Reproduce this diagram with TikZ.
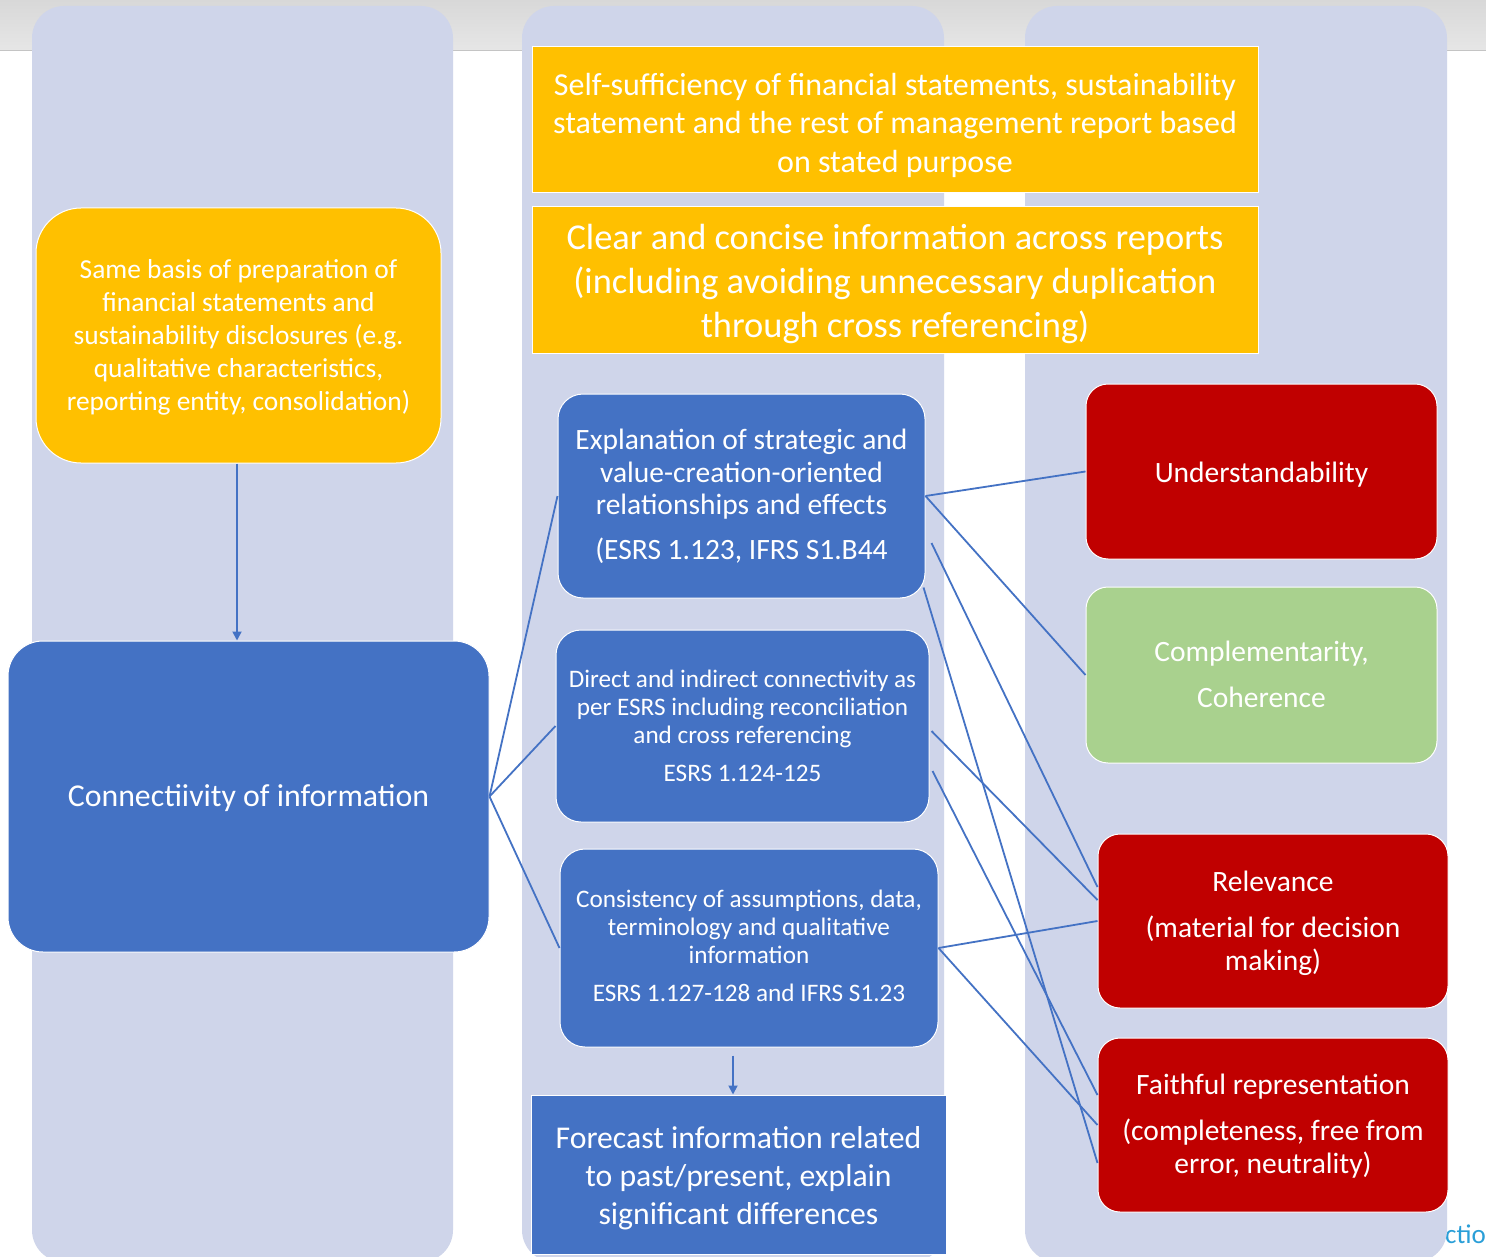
\documentclass[tikz,border=0pt]{standalone}
\usepackage{fontspec}
\setmainfont{Carlito}
\usetikzlibrary{arrows.meta}
\definecolor{colbg}{HTML}{CFD5EA}
\definecolor{ygold}{HTML}{FFC000}
\definecolor{bblue}{HTML}{4472C4}
\definecolor{rred}{HTML}{C00000}
\definecolor{ggreen}{HTML}{A9D18E}
\definecolor{barcol}{HTML}{E6E6E6}
\definecolor{bartop}{HTML}{D8D8D8}
\definecolor{barline}{HTML}{C4C4C4}
\definecolor{actiocol}{HTML}{2A9FD8}
\tikzset{
  colbox/.style={fill=colbg, rounded corners=32pt},
  card/.style={draw=white, line width=1pt, inner sep=0pt},
  txt/.style={text=white, inner sep=0pt, align=center},
  link/.style={draw=bblue, line width=1.8pt},
  arr/.style={link, -{Triangle[width=9pt,length=9pt]}},
}
\newcommand{\fs}[2]{\fontsize{#1}{#2}\selectfont}
\begin{document}
\begin{tikzpicture}[x=1pt,y=-1pt]
\useasboundingbox (0,0) rectangle (1486,1257);
\clip (0,0) rectangle (1486,1257);
\fill[white] (0,0) rectangle (1486,1257);
% top bar
\shade[top color=bartop, bottom color=barcol] (0,0) rectangle (1486,50);
\draw[barline, line width=1.5pt] (0,50.5) -- (1486,50.5);
% clipped text at bottom right
\node[text=actiocol, font=\fs{27}{30}, anchor=base east, inner sep=0pt] (actio) at (1486,1243) {actio};
% columns
\fill[colbox] (32,6) rectangle (453,1262);
\fill[colbox] (522,6) rectangle (944,1262);
\fill[colbox] (1025,6) rectangle (1447,1262);
% boxes
\node[card, fill=ygold, minimum width=726pt, minimum height=146pt] (self) at (895,120) {};
\node[txt, font=\fs{32}{38.5}] (selftxt) at (895,125)
  {Self-sufficiency of financial statements, sustainability\\statement and the rest of management report based\\on stated purpose};
\node[card, fill=ygold, minimum width=726pt, minimum height=146pt] (clear) at (895,280) {};
\node[txt, font=\fs{36.4}{44}] (cleartxt) at (895,284)
  {Clear and concise information across reports\\(including avoiding unnecessary duplication\\through cross referencing)};
\node[card, fill=ygold, rounded corners=45pt, minimum width=405pt, minimum height=255pt] (same) at (238.5,335.5) {};
\node[txt, font=\fs{27.4}{33}] (sametxt) at (238.5,337)
  {Same basis of preparation of\\financial statements and\\sustainability disclosures (e.g.\\qualitative characteristics,\\reporting entity, consolidation)};
\node[card, fill=bblue, rounded corners=35pt, minimum width=481pt, minimum height=311pt] (conn) at (248.5,796.5) {};
\node[txt, font=\fs{31.8}{38}] (conntxt) at (248.5,798.5) {Connectiivity of information};
\node[card, fill=bblue, rounded corners=25pt, minimum width=367pt, minimum height=204pt] (expl) at (741.5,496) {};
\node[txt, font=\fs{29.5}{32.5}] (expltxt) at (741.5,496.5)
  {Explanation of strategic and\\value-creation-oriented\\relationships and effects\\[12pt](ESRS 1.123, IFRS S1.B44};
\node[card, fill=bblue, rounded corners=25pt, minimum width=373pt, minimum height=192pt] (dir) at (742.5,726) {};
\node[txt, font=\fs{25.2}{28}] (dirtxt) at (742.5,725.5)
  {Direct and indirect connectivity as\\per ESRS including reconciliation\\and cross referencing\\[10pt]ESRS 1.124-125};
\node[card, fill=bblue, rounded corners=25pt, minimum width=378pt, minimum height=198pt] (cons) at (749,948) {};
\node[txt, font=\fs{25.2}{28}] (constxt) at (749,946)
  {Consistency of assumptions, data,\\terminology and qualitative\\information\\[10pt]ESRS 1.127-128 and IFRS S1.23};
\node[card, fill=bblue, minimum width=415pt, minimum height=159pt] (fc) at (738.5,1174.5) {};
\node[txt, font=\fs{31.7}{38}] (fctxt) at (738.5,1178)
  {Forecast information related\\to past/present, explain\\significant differences};
\node[card, fill=rred, rounded corners=22pt, minimum width=351pt, minimum height=175pt] (under) at (1261.5,471.5) {};
\node[txt, font=\fs{29.5}{33}] (undertxt) at (1261.5,474.5) {Understandability};
\node[card, fill=ggreen, rounded corners=22pt, minimum width=351pt, minimum height=176pt] (comp) at (1261.5,675) {};
\node[txt, font=\fs{29.5}{33}] (comptxt) at (1261.5,674) {Complementarity,\\[13pt]Coherence};
\node[card, fill=rred, rounded corners=22pt, minimum width=350pt, minimum height=174pt] (rel) at (1273,921) {};
\node[txt, font=\fs{29.5}{33}] (reltxt) at (1273,923) {Relevance\\[13pt](material for decision\\making)};
\node[card, fill=rred, rounded corners=22pt, minimum width=350pt, minimum height=174pt] (faith) at (1273,1125) {};
\node[txt, font=\fs{29.5}{33}] (faithtxt) at (1273,1126) {Faithful representation\\[13pt](completeness, free from\\error, neutrality)};
% connectors
\draw[arr] ([xshift=-1.5pt]same.south) -- ([xshift=-1.5pt]same.south |- conn.north);
\draw[arr] ([xshift=-16pt,yshift=-8pt]cons.south) -- ([xshift=-5.5pt]fc.north);
\draw[link] (conn.east) -- (expl.west);
\draw[link] (conn.east) -- (dir.west);
\draw[link] (conn.east) -- (cons.west);
\draw[link] (expl.east) -- (under.west);
\draw[link] (expl.east) -- (comp.west);
\draw[link] ([xshift=6pt,yshift=-47pt]expl.east) -- ([yshift=34pt]rel.west);
\draw[link] ([xshift=-2pt,yshift=11pt]expl.south east) -- ([yshift=-38pt]faith.west);
\draw[link] ([xshift=2pt,yshift=-5pt]dir.east) -- ([yshift=21pt]rel.west);
\draw[link] ([xshift=3pt,yshift=-45pt]dir.east) -- ([yshift=30pt]faith.west);
\draw[link] (cons.east) -- (rel.west);
\draw[link] (cons.east) -- (faith.west);
\end{tikzpicture}
\end{document}
